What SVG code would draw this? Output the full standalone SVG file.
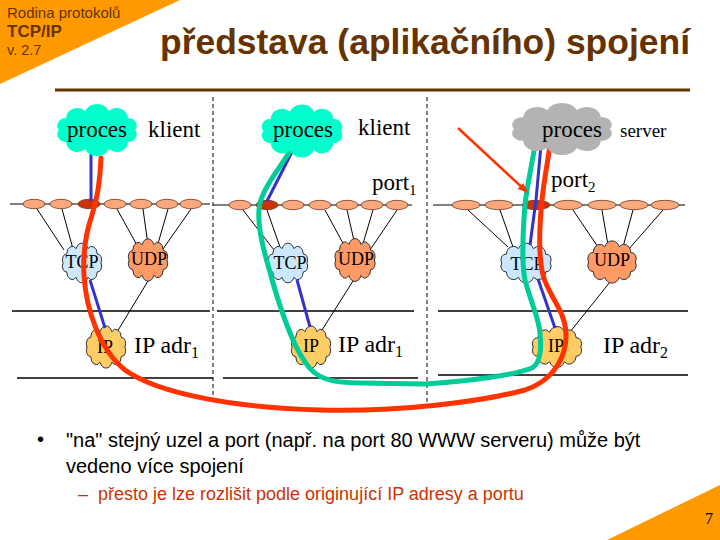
<svg xmlns="http://www.w3.org/2000/svg" width="720" height="540" viewBox="0 0 720 540">
<style>
.serif{font-family:"Liberation Serif","Times New Roman",serif;fill:#000}
.sans{font-family:"Liberation Sans",Arial,sans-serif}
.thin{stroke:#000;stroke-width:1;fill:none}
.rule{stroke:#000;stroke-width:1.3;fill:none}
.dash{stroke:#000;stroke-width:1;stroke-dasharray:4 3;fill:none}
.port{fill:#fba87c;stroke:#6b3a1e;stroke-width:0.8}
.portA{fill:#cc3300;stroke:#6b3a1e;stroke-width:0.8}
.blue{stroke:#3333cc;stroke-width:3;fill:none}
.green{stroke:#00cc99;stroke-width:5;fill:none;stroke-linecap:round}
.red{stroke:#ff3300;stroke-width:5;fill:none;stroke-linecap:round}
.tcp{fill:#cce8ff;stroke:#333;stroke-width:1}
.udp{fill:#ff9966;stroke:#333;stroke-width:1}
.ip{fill:#ffcc66;stroke:#333;stroke-width:1}
.proc{fill:#00ffcc}
.srv{fill:#b3b3b3}
</style>
<defs>
<path id="cloud" vector-effect="non-scaling-stroke" d="M44,0 A9,9 0 0 1 35.6,14.1 A13,13 0 0 1 13.6,22.8 A15,15 0 0 1 -13.6,22.8 A13,13 0 0 1 -35.6,14.1 A9,9 0 0 1 -44,0 A9,9 0 0 1 -35.6,-14.1 A13,13 0 0 1 -13.6,-22.8 A15,15 0 0 1 13.6,-22.8 A13,13 0 0 1 35.6,-14.1 A9,9 0 0 1 44,0 Z"/>
<marker id="arr" markerWidth="10" markerHeight="8" refX="9" refY="4" orient="auto" markerUnits="userSpaceOnUse">
<path d="M0,0 L10,4 L0,8 Z" fill="#ff3300"/>
</marker>
</defs>

<rect width="720" height="540" fill="#fff"/>

<g id="header">
<polygon points="0,0 180,0 0,84" fill="#ff9900"/>
<text x="7" y="18" class="sans" font-size="15" fill="#663300">Rodina protokolů</text>
<text x="7" y="37" class="sans" font-size="17" font-weight="bold" fill="#663300">TCP/IP</text>
<text x="7" y="55" class="sans" font-size="14.5" fill="#663300">v. 2.7</text>
<text x="160" y="54" class="sans" font-size="35" font-weight="bold" fill="#663300" textLength="530" lengthAdjust="spacingAndGlyphs">představa (aplikačního) spojení</text>
<line x1="55" y1="90" x2="690" y2="90" stroke="#663300" stroke-width="3"/>
</g>

<g id="frame">
<line x1="213" y1="97" x2="213" y2="402" class="dash"/>
<line x1="427" y1="97" x2="427" y2="402" class="dash"/>
<line x1="10" y1="204" x2="210" y2="204" class="thin"/>
<line x1="213" y1="205" x2="412" y2="205" class="thin"/>
<line x1="433" y1="205" x2="685" y2="205" class="thin"/>
<line x1="12" y1="311" x2="210" y2="311" class="rule"/>
<line x1="17" y1="378" x2="213" y2="378" class="rule"/>
<line x1="217" y1="311" x2="414" y2="311" class="rule"/>
<line x1="223" y1="378" x2="418" y2="378" class="rule"/>
<line x1="438" y1="311" x2="688" y2="311" class="rule"/>
<line x1="438" y1="375" x2="688" y2="375" class="rule"/>
</g>

<g id="thin-connectors">
<line x1="37" y1="209" x2="64" y2="250" class="thin"/>
<line x1="62" y1="209" x2="73" y2="249" class="thin"/>
<line x1="117" y1="209" x2="138" y2="247" class="thin"/>
<line x1="143" y1="209" x2="148" y2="245" class="thin"/>
<line x1="168" y1="209" x2="157" y2="247" class="thin"/>
<line x1="191" y1="209" x2="163" y2="249" class="thin"/>
<line x1="148" y1="281" x2="117" y2="332" class="thin"/>
<line x1="243" y1="210" x2="274" y2="250" class="thin"/>
<line x1="267" y1="210" x2="280" y2="247" class="thin"/>
<line x1="325" y1="210" x2="345" y2="247" class="thin"/>
<line x1="347" y1="210" x2="355" y2="245" class="thin"/>
<line x1="373" y1="210" x2="362" y2="247" class="thin"/>
<line x1="397" y1="210" x2="370" y2="250" class="thin"/>
<line x1="353" y1="281" x2="322" y2="330" class="thin"/>
<line x1="468" y1="210" x2="508" y2="247" class="thin"/>
<line x1="500" y1="210" x2="513" y2="247" class="thin"/>
<line x1="573" y1="210" x2="598" y2="247" class="thin"/>
<line x1="602" y1="210" x2="608" y2="245" class="thin"/>
<line x1="633" y1="210" x2="623" y2="247" class="thin"/>
<line x1="663" y1="210" x2="628" y2="250" class="thin"/>
<line x1="610" y1="282" x2="570" y2="332" class="thin"/>
</g>

<g id="ports-left">
<ellipse cx="34" cy="204" rx="11" ry="4.7" class="port"/>
<ellipse cx="61" cy="204" rx="11" ry="4.7" class="port"/>
<ellipse cx="89" cy="204" rx="11" ry="4.7" class="portA"/>
<ellipse cx="115" cy="204" rx="11" ry="4.7" class="port"/>
<ellipse cx="141" cy="204" rx="11" ry="4.7" class="port"/>
<ellipse cx="167" cy="204" rx="11" ry="4.7" class="port"/>
<ellipse cx="191" cy="204" rx="11" ry="4.7" class="port"/>
</g>
<g id="ports-middle">
<ellipse cx="240" cy="205" rx="11" ry="4.7" class="port"/>
<ellipse cx="267" cy="205" rx="11" ry="4.7" class="portA"/>
<ellipse cx="293" cy="205" rx="11" ry="4.7" class="port"/>
<ellipse cx="320" cy="205" rx="11" ry="4.7" class="port"/>
<ellipse cx="347" cy="205" rx="11" ry="4.7" class="port"/>
<ellipse cx="372" cy="205" rx="11" ry="4.7" class="port"/>
<ellipse cx="397" cy="205" rx="11" ry="4.7" class="port"/>
</g>
<g id="ports-right">
<ellipse cx="466" cy="205" rx="14" ry="4.7" class="port"/>
<ellipse cx="499" cy="205" rx="14" ry="4.7" class="port"/>
<ellipse cx="536" cy="205" rx="14" ry="4.7" class="portA"/>
<ellipse cx="568" cy="205" rx="14" ry="4.7" class="port"/>
<ellipse cx="602" cy="205" rx="14" ry="4.7" class="port"/>
<ellipse cx="634" cy="205" rx="14" ry="4.7" class="port"/>
<ellipse cx="665" cy="205" rx="14" ry="4.7" class="port"/>
</g>

<g id="tcp-left"><use href="#cloud" class="tcp" transform="translate(82,263) scale(0.43,0.63)"/><text x="82" y="268" class="serif" font-size="18" text-anchor="middle">TCP</text></g>
<g id="udp-left"><use href="#cloud" class="udp" transform="translate(148,260) scale(0.43,0.67)"/><text x="149" y="265" class="serif" font-size="18" text-anchor="middle">UDP</text></g>
<g id="ip-left"><use href="#cloud" class="ip" transform="translate(106,347) scale(0.43,0.67)"/><text x="105" y="353" class="serif" font-size="18" text-anchor="middle">IP</text></g>
<g id="tcp-middle"><use href="#cloud" class="tcp" transform="translate(288,263) scale(0.43,0.63)"/><text x="290" y="269" class="serif" font-size="18" text-anchor="middle">TCP</text></g>
<g id="udp-middle"><use href="#cloud" class="udp" transform="translate(355,260) scale(0.44,0.68)"/><text x="356" y="265" class="serif" font-size="18" text-anchor="middle">UDP</text></g>
<g id="ip-middle"><use href="#cloud" class="ip" transform="translate(311,347) scale(0.43,0.67)"/><text x="311" y="352" class="serif" font-size="18" text-anchor="middle">IP</text></g>
<g id="tcp-right"><use href="#cloud" class="tcp" transform="translate(526,263) scale(0.55,0.63)"/><text x="527" y="270" class="serif" font-size="18" text-anchor="middle">TCP</text></g>
<g id="udp-right"><use href="#cloud" class="udp" transform="translate(612,262) scale(0.53,0.67)"/><text x="612" y="266" class="serif" font-size="18" text-anchor="middle">UDP</text></g>
<g id="ip-right"><use href="#cloud" class="ip" transform="translate(557,347) scale(0.54,0.65)"/><text x="556" y="352" class="serif" font-size="18" text-anchor="middle">IP</text></g>

<g id="connectors">
<line x1="91" y1="150" x2="91" y2="201" class="blue"/>
<line x1="90" y1="280" x2="105" y2="328" class="blue"/>
<line x1="293" y1="150" x2="267" y2="201" class="blue"/>
<line x1="297" y1="280" x2="310" y2="327" class="blue"/>
<path d="M541,145 L536,200 L530,245" class="blue"/>
<line x1="538" y1="279" x2="555" y2="328" class="blue"/>
<path class="green" d="M292,148 C280,168 265,185 260,203 C256,220 262,245 268,265 C276,295 290,340 305,362 C315,378 330,383 360,383 L425,384 C470,381 515,375 532,368 C542,362 541,345 540,333 C539,318 530,300 525,280 C521,260 523,230 525,205 C527,185 532,165 535,145"/>
<path class="red" d="M101,158 C100,185 97,200 92,215 C86,232 83,255 84,275 C86,310 100,350 125,370 C160,395 240,408 320,410 C400,412 480,402 525,390 C555,380 567,355 566,333 C565,310 548,295 543,275 C538,255 540,220 542,200 C544,180 548,160 550,145"/>
<line x1="458" y1="128" x2="527" y2="192" stroke="#ff3300" stroke-width="2.5" marker-end="url(#arr)"/>
</g>

<g id="proces-left"><use href="#cloud" class="proc" transform="translate(97,130) scale(0.87,0.83)"/><text x="97" y="137" class="serif" font-size="23" text-anchor="middle">proces</text></g>
<g id="proces-middle"><use href="#cloud" class="proc" transform="translate(302,131) scale(0.88,0.84)"/><text x="303" y="137" class="serif" font-size="23" text-anchor="middle">proces</text></g>
<g id="proces-server"><use href="#cloud" class="srv" transform="translate(562,129) scale(1.09,0.83)"/><text x="572" y="137" class="serif" font-size="23" text-anchor="middle">proces</text></g>

<g id="labels">
<text x="148" y="137" class="serif" font-size="23">klient</text>
<text x="358" y="135" class="serif" font-size="23">klient</text>
<text x="620" y="137" class="serif" font-size="19">server</text>
<text x="372" y="190" class="serif" font-size="23">port<tspan font-size="15" dy="5">1</tspan></text>
<text x="551" y="187" class="serif" font-size="23">port<tspan font-size="15" dy="5">2</tspan></text>
<text x="134" y="353" class="serif" font-size="24">IP adr<tspan font-size="16" dy="5">1</tspan></text>
<text x="338" y="352" class="serif" font-size="24">IP adr<tspan font-size="16" dy="5">1</tspan></text>
<text x="603" y="353" class="serif" font-size="24">IP adr<tspan font-size="16" dy="5">2</tspan></text>
</g>

<g id="notes">
<text x="37" y="446" class="sans" font-size="20" fill="#000">•</text>
<text x="66" y="447" class="sans" font-size="20" fill="#000">"na" stejný uzel a port (např. na port 80 WWW serveru) může být</text>
<text x="66" y="473" class="sans" font-size="20" fill="#000">vedeno více spojení</text>
<text x="78" y="500" class="sans" font-size="18" fill="#cc3300">–</text>
<text x="98" y="500" class="sans" font-size="18" fill="#cc3300">přesto je lze rozlišit podle originující IP adresy a portu</text>
</g>

<g id="footer">
<polygon points="607,540 720,485 720,540" fill="#ff9900"/>
<text x="705" y="524" class="serif" font-size="16">7</text>
</g>
</svg>
